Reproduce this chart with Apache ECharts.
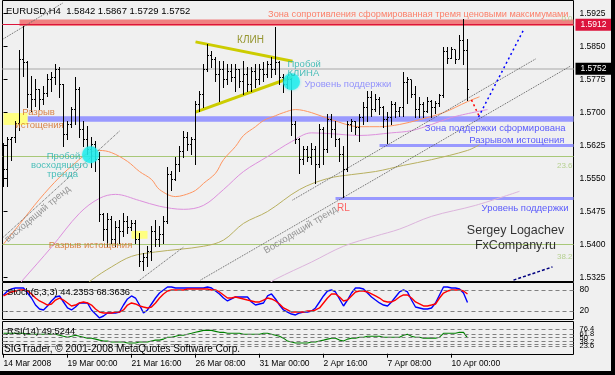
<!DOCTYPE html>
<html><head><meta charset="utf-8">
<script src="https://cdn.jsdelivr.net/npm/echarts@6/dist/echarts.min.js"></script>
<style>html,body{margin:0;padding:0;background:#f0f0f0;}#c{width:615px;height:375px;}</style>
</head><body><div id="c"></div>
<script>
// ---------- DATA ----------
const xTickIndex = [0,16,32,48,64,80,96,112];
const xTickLabels = ['14 Mar 2008','19 Mar 00:00','21 Mar 16:00','26 Mar 08:00','31 Mar 00:00','2 Apr 16:00','7 Apr 08:00','10 Apr 00:00'];
const priceTicks = [1.5325,1.5400,1.5475,1.5550,1.5625,1.5700,1.5775,1.5850,1.5925];
const stochTicks = [0,20,80,100];
const stochLevels = [20,80];
const rsiTicks = [0,23.6,38.2,50,61.8,76.4,100];
const rsiLevels = [23.6,30,38.2,50,61.8,76.4];

const opens = [1.5616,1.5571,1.5639,1.5643,1.5675,1.5820,1.5815,1.5741,1.5729,1.5752,
1.5729,1.5743,1.5775,1.5779,1.5797,1.5763,1.5650,1.5673,1.5707,1.5752,
1.5661,1.5639,1.5616,1.5627,1.5593,1.5469,1.5435,1.5457,1.5412,1.5439,
1.5430,1.5453,1.5439,1.5448,1.5412,1.5362,1.5371,1.5385,1.5430,1.5412,
1.5423,1.5453,1.5559,1.5548,1.5582,1.5611,1.5643,1.5627,1.5639,1.5718,
1.5741,1.5797,1.5831,1.5820,1.5786,1.5797,1.5775,1.5793,1.5779,1.5797,
1.5770,1.5786,1.5763,1.5793,1.5775,1.5797,1.5786,1.5809,1.5797,1.5815,
1.5779,1.5763,1.5775,1.5673,1.5639,1.5593,1.5616,1.5598,1.5616,1.5582,
1.5661,1.5616,1.5684,1.5661,1.5639,1.5605,1.5571,1.5673,1.5679,1.5666,
1.5688,1.5711,1.5734,1.5707,1.5729,1.5711,1.5684,1.5688,1.5718,1.5702,
1.5711,1.5768,1.5775,1.5741,1.5707,1.5718,1.5702,1.5725,1.5711,1.5720,
1.5738,1.5838,1.5824,1.5843,1.5820,1.5865,1.5842];
const highs = [1.5632,1.5645,1.5645,1.5682,1.5843,1.5897,1.5818,1.5784,1.5777,1.5754,
1.5761,1.5788,1.5793,1.5811,1.5804,1.5766,1.5682,1.5713,1.5781,1.5759,
1.5682,1.5670,1.5645,1.5636,1.5611,1.5471,1.5471,1.5464,1.5453,1.5455,
1.5471,1.5464,1.5455,1.5455,1.5426,1.5380,1.5396,1.5441,1.5455,1.5441,
1.5464,1.5577,1.5568,1.5600,1.5623,1.5659,1.5657,1.5645,1.5727,1.5750,
1.5811,1.5856,1.5840,1.5827,1.5818,1.5818,1.5811,1.5811,1.5811,1.5799,
1.5818,1.5804,1.5804,1.5811,1.5811,1.5815,1.5818,1.5827,1.5895,1.5818,
1.5788,1.5784,1.5779,1.5682,1.5643,1.5623,1.5625,1.5630,1.5623,1.5675,
1.5668,1.5697,1.5697,1.5682,1.5643,1.5623,1.5682,1.5686,1.5682,1.5697,
1.5725,1.5750,1.5750,1.5743,1.5736,1.5716,1.5702,1.5727,1.5725,1.5713,
1.5793,1.5782,1.5775,1.5760,1.5736,1.5725,1.5736,1.5729,1.5727,1.5743,
1.5849,1.5849,1.5849,1.5843,1.5877,1.5912,1.5867];
const lows = [1.5532,1.5532,1.5593,1.5634,1.5661,1.5784,1.5713,1.5704,1.5716,1.5709,
1.5720,1.5738,1.5750,1.5766,1.5736,1.5625,1.5641,1.5668,1.5675,1.5645,
1.5623,1.5607,1.5577,1.5568,1.5453,1.5410,1.5396,1.5403,1.5396,1.5403,
1.5419,1.5426,1.5432,1.5403,1.5351,1.5341,1.5351,1.5364,1.5396,1.5396,
1.5403,1.5448,1.5523,1.5546,1.5568,1.5600,1.5614,1.5607,1.5584,1.5704,
1.5713,1.5795,1.5804,1.5772,1.5727,1.5759,1.5766,1.5772,1.5750,1.5759,
1.5743,1.5750,1.5750,1.5759,1.5766,1.5772,1.5781,1.5781,1.5788,1.5766,
1.5747,1.5757,1.5648,1.5630,1.5562,1.5584,1.5591,1.5584,1.5539,1.5577,
1.5584,1.5611,1.5645,1.5623,1.5589,1.5509,1.5568,1.5659,1.5652,1.5636,
1.5675,1.5682,1.5693,1.5704,1.5697,1.5668,1.5630,1.5675,1.5691,1.5693,
1.5693,1.5722,1.5736,1.5691,1.5691,1.5691,1.5702,1.5691,1.5700,1.5716,
1.5736,1.5813,1.5824,1.5813,1.5824,1.5811,1.5729];
const closes = [1.5571,1.5639,1.5643,1.5675,1.5820,1.5815,1.5741,1.5729,1.5752,1.5729,
1.5743,1.5775,1.5779,1.5797,1.5763,1.5650,1.5673,1.5707,1.5752,1.5661,
1.5639,1.5616,1.5627,1.5593,1.5469,1.5435,1.5457,1.5412,1.5439,1.5430,
1.5453,1.5439,1.5448,1.5412,1.5362,1.5371,1.5385,1.5430,1.5412,1.5423,
1.5453,1.5559,1.5548,1.5582,1.5611,1.5643,1.5627,1.5639,1.5718,1.5741,
1.5797,1.5831,1.5820,1.5786,1.5797,1.5775,1.5793,1.5779,1.5797,1.5770,
1.5786,1.5763,1.5793,1.5775,1.5797,1.5786,1.5809,1.5797,1.5815,1.5779,
1.5763,1.5775,1.5673,1.5639,1.5593,1.5616,1.5598,1.5616,1.5582,1.5661,
1.5616,1.5684,1.5661,1.5639,1.5605,1.5571,1.5673,1.5679,1.5666,1.5688,
1.5711,1.5734,1.5707,1.5729,1.5711,1.5684,1.5688,1.5718,1.5702,1.5711,
1.5768,1.5775,1.5741,1.5707,1.5718,1.5702,1.5725,1.5711,1.5720,1.5738,
1.5838,1.5824,1.5843,1.5820,1.5865,1.5842,1.5752];

const stochK = [65.7,77.1,82.9,85.7,85.7,85.7,71.4,57.1,37.1,25.7,
22.9,34.3,48.6,60.0,62.9,45.7,28.6,22.9,31.4,42.9,
42.9,42.9,22.9,11.4,0,5.7,14.3,14.3,14.3,17.1,
37.1,54.3,62.9,57.1,37.1,14.3,22.9,40.0,57.1,71.4,
80.0,88.6,88.6,85.7,85.7,85.7,85.7,85.7,85.7,85.7,
85.7,88.6,85.7,77.1,68.6,57.1,48.6,54.3,60.0,60.0,
60.0,60.0,45.7,37.1,40.0,42.9,62.9,68.6,54.3,37.1,
22.9,17.1,11.4,8.6,14.3,17.1,17.1,20.0,28.6,45.7,
62.9,77.1,80.0,74.3,54.3,34.3,51.4,71.4,85.7,85.7,
82.9,71.4,60.0,51.4,42.9,37.1,34.3,45.7,60.0,74.3,
80.0,74.3,51.4,31.4,28.6,25.7,25.7,28.6,42.9,65.7,
88.6,88.6,85.7,85.7,82.9,71.4,44.2353];
const stochD = [62.9,68.6,74.3,77.1,80.0,80.0,77.1,68.6,57.1,48.6,
42.9,37.1,40.0,51.4,57.1,51.4,42.9,34.3,37.1,42.9,
45.7,42.9,37.1,25.7,17.1,14.3,14.3,14.3,17.1,17.1,
22.9,37.1,42.9,40.0,34.3,31.4,28.6,31.4,42.9,57.1,
68.6,77.1,80.0,80.0,80.0,80.0,82.9,82.9,82.9,82.9,
82.9,82.9,80.0,80.0,74.3,65.7,57.1,57.1,60.0,57.1,
54.3,51.4,48.6,45.7,45.7,51.4,57.1,54.3,48.6,40.0,
28.6,22.9,17.1,17.1,17.1,17.1,20.0,20.0,22.9,28.6,
42.9,57.1,68.6,68.6,60.0,48.6,51.4,62.9,74.3,77.1,
77.1,74.3,68.6,62.9,57.1,48.6,45.7,45.7,51.4,60.0,
65.7,65.7,57.1,45.7,40.0,34.3,34.3,37.1,40.0,57.1,
71.4,77.1,80.0,80.0,80.0,77.1,68.3636];
const rsi = [63.6,63.6,63.6,63.6,63.6,63.6,60.6,60.6,60.6,60.6,
60.6,60.6,60.6,60.6,57.6,54.5,51.5,54.5,57.6,54.5,
51.5,48.5,48.5,45.5,42.4,39.4,39.4,36.4,36.4,36.4,
36.4,33.3,33.3,33.3,36.4,36.4,36.4,39.4,42.4,42.4,
45.5,51.5,51.5,54.5,57.6,57.6,60.6,63.6,66.7,69.7,
72.7,72.7,72.7,69.7,66.7,66.7,63.6,63.6,63.6,63.6,
60.6,60.6,60.6,60.6,60.6,63.6,63.6,60.6,57.6,54.5,
48.5,39.4,36.4,33.3,33.3,33.3,33.3,36.4,36.4,39.4,
42.4,45.5,48.5,48.5,42.4,39.4,45.5,48.5,48.5,51.5,
51.5,54.5,54.5,54.5,54.5,51.5,51.5,51.5,51.5,51.5,
57.6,60.6,54.5,51.5,51.5,48.5,48.5,48.5,48.5,51.5,
63.6,63.6,63.6,63.6,66.7,66.7,49.5244];

// moving averages: [bar index, price] (shifted lines run past the last bar)
const maOrange = [[0,1.5401],[4,1.5446],[9,1.5503],[14,1.5553],[18,1.5586],[21,1.5607],[24,1.5614],[27,1.5609],[31,1.5589],[34,1.5566],[37,1.5548],[39,1.5525],[43,1.5509],[45,1.5512],[48,1.5523],[50,1.5539],[53,1.5562],[55,1.5593],[58,1.5623],[60,1.5648],[63,1.5668],[65,1.5682],[68,1.5693],[70,1.5700],[73,1.5707],[77,1.5700],[82,1.5684],[89,1.5668],[94,1.5668],[99,1.5673],[104,1.5684],[110,1.5700],[116,1.5725],[119,1.5736]];
const maPlum = [[0,1.5269],[5,1.5321],[12,1.5394],[19,1.5471],[24,1.5505],[28,1.5514],[34,1.5500],[39,1.5487],[45,1.5480],[50,1.5489],[55,1.5525],[60,1.5566],[66,1.5600],[72,1.5634],[77,1.5654],[82,1.5652],[89,1.5648],[97,1.5654],[102,1.5659],[107,1.5673],[112,1.5689],[121,1.5707]];
const maOlive = [[19,1.5294],[22,1.5319],[27,1.5349],[32,1.5373],[38,1.5383],[50,1.5396],[55,1.5410],[60,1.5448],[66,1.5475],[74,1.5525],[81,1.5550],[87,1.5559],[93,1.5566],[100,1.5580],[107,1.5593],[116,1.5614],[119,1.5627]];
const maThistle = [[64,1.5299],[68,1.5321],[77,1.5360],[85,1.5396],[93,1.5419],[99,1.5435],[107,1.5464],[118,1.5489],[129,1.5521]];

// horizontal levels (prices)
const resistLevel = 1.5912, resistZoneLow = 1.5897;
const supportZone = [1.5692, 1.5679];
const lastPrice = 1.5752;
const lowLine = 1.5341;
const fibLevels = [1.5896, 1.5564, 1.5360];
const supportLine1 = 1.5626, supportLine2 = 1.5506;
const gapBoxes = [[0,6,1.5699,1.5672],[32,36,1.5431,1.5413]];

// drawn trend lines: [i1,p1,i2,p2]
const grayLines = [[0,1.5868,14.75,1.5949],[0,1.5417,29,1.5658],[33.75,1.5317,45,1.5394],[49.25,1.5319,141.75,1.5806],[72.25,1.5501,133,1.5822]];
const wedgeLines = [[48,1.5861,72.25,1.5817],[48,1.5701,72.25,1.5781]];
const forecastBlue = [118.75,1.5690,130,1.5888];
const forecastRed = [117,1.5729,119,1.5690];
const navyLine = [127.5,1.5319,137.25,1.5349];
const breakouts = [[21.75,1.5604],[72,1.5770]];

// ---------- CHART ----------
const FONT = "'Liberation Sans', Arial, sans-serif";
const chart = echarts.init(document.getElementById('c'), null, {renderer:'canvas'});

const notes = [
 {t:'Зона сопротивления сформированная тремя ценовыми максимумами', i:141.25, p:1.5924, c:'#ff6347', s:9.2, a:'right'},
 {t:'0.0', i:142.25, p:1.5914, c:'#a8c878', s:8, a:'right'},
 {t:'КЛИН', i:61.75, p:1.5865, c:'#808000', s:10, a:'center'},
 {t:'Пробой', i:71, p:1.5810, c:'#20b2aa', s:9.5, a:'left'},
 {t:'КЛИНА', i:71, p:1.5790, c:'#20b2aa', s:9.5, a:'left'},
 {t:'Уровень поддержки', i:75.25, p:1.5765, c:'#7b7bff', s:9.5, a:'left'},
 {t:'Разрыв', i:8.75, p:1.5701, c:'#d2691e', s:9.5, a:'center'},
 {t:'истощения', i:9, p:1.5672, c:'#d2691e', s:9.5, a:'center'},
 {t:'Пробой', i:15, p:1.5601, c:'#20b2aa', s:9.5, a:'center'},
 {t:'восходящего', i:14, p:1.5581, c:'#20b2aa', s:9.5, a:'center'},
 {t:'тренда', i:14.75, p:1.5560, c:'#20b2aa', s:9.5, a:'center'},
 {t:'Зона поддержки сформирована', i:140.5, p:1.5665, c:'#3333ff', s:9.5, a:'right'},
 {t:'Разрывом истощения', i:140.25, p:1.5636, c:'#3333ff', s:9.5, a:'right'},
 {t:'23.6', i:142.25, p:1.5579, c:'#a8c878', s:8, a:'right'},
 {t:'Уровень поддержки', i:141.25, p:1.5483, c:'#3333ff', s:9.5, a:'right'},
 {t:'RL', i:85, p:1.5483, c:'#ff4040', s:10, a:'center'},
 {t:'Sergey Logachev', i:128, p:1.5431, c:'#000', s:12.5, a:'center'},
 {t:'FxCompany.ru', i:128, p:1.5397, c:'#000', s:12.5, a:'center'},
 {t:'Разрыв истощения', i:21.75, p:1.5397, c:'#d2691e', s:9.5, a:'center'},
 {t:'38.2', i:142.25, p:1.5372, c:'#a8c878', s:8, a:'right'},
 {t:'Восходящий тренд', i:74.25, p:1.5433, c:'#7a7a7a', s:9.5, a:'center', r:31},
 {t:'восходящий тренд', i:8.5, p:1.5469, c:'#7a7a7a', s:9.5, a:'center', r:40}
];

const XMIN = -0.25, XMAX = 142.5;
const lineSeg = (seg, color, width, type, z) => ({
  type:'line', xAxisIndex:0, yAxisIndex:0, data:[[seg[0],seg[1]],[seg[2],seg[3]]],
  showSymbol:false, symbol:'none', silent:true, z:z||3,
  lineStyle:{color, width, type}
});
const maSeries = (d, color) => ({type:'line', xAxisIndex:0, yAxisIndex:0, data:d, showSymbol:false, symbol:'none', smooth:0.35, silent:true, z:3, lineStyle:{color, width:1}});

const bars = opens.map((o,k)=>[k,o,highs[k],lows[k],closes[k]]);

const priceLabel = (txt,bg) => ({show:true, position:'end', distance:2, formatter:txt, color:'#fff', backgroundColor:bg, padding:[2,5,1,5], fontSize:8.5, fontFamily:FONT});

const option = {
  animation:false,
  backgroundColor:'#f0f0f0',
  textStyle:{fontFamily:FONT},
  grid:[
    {left:2.5, top:0.5, width:571, height:281, show:true, borderColor:'#000', borderWidth:1, backgroundColor:'#f0f0f0'},
    {left:2.5, top:282.5, width:571, height:37, show:true, borderColor:'#000', borderWidth:1, backgroundColor:'#f0f0f0'},
    {left:2.5, top:321.5, width:571, height:33, show:true, borderColor:'#000', borderWidth:1, backgroundColor:'#f0f0f0'}
  ],
  xAxis:[0,1,2].map(g=>({
    type:'value', gridIndex:g, min:XMIN, max:XMAX, show:g===2,
    axisLine:{show:false}, splitLine:{show:false},
    axisTick:{show:true, customValues:xTickIndex, length:4, lineStyle:{color:'#000'}},
    axisLabel:{show:true, customValues:xTickIndex, formatter:v=>xTickLabels[xTickIndex.indexOf(v)], align:'left', margin:5, color:'#000', fontSize:8.5, fontFamily:FONT}
  })),
  yAxis:[
    {type:'value', gridIndex:0, position:'right', min:1.53158, max:1.59551, axisLine:{show:false}, splitLine:{show:false},
     axisTick:{show:true, customValues:priceTicks, length:4, lineStyle:{color:'#000'}},
     axisLabel:{customValues:priceTicks, formatter:v=>v.toFixed(4), margin:6, color:'#000', fontSize:8.5, fontFamily:FONT}},
    {type:'value', gridIndex:1, position:'right', min:-4.3, max:101.4, axisLine:{show:false}, splitLine:{show:false},
     axisTick:{show:true, customValues:stochTicks, length:4, lineStyle:{color:'#000'}},
     axisLabel:{customValues:stochTicks, hideOverlap:false, margin:6, color:'#000', fontSize:8.5, fontFamily:FONT}},
    {type:'value', gridIndex:2, position:'right', min:-2.5, max:100.5, axisLine:{show:false}, splitLine:{show:false},
     axisTick:{show:true, customValues:rsiTicks, length:4, lineStyle:{color:'#000'}},
     axisLabel:{customValues:rsiTicks, hideOverlap:false, margin:6, color:'#000', fontSize:7.5, fontFamily:FONT}}
  ],
  series:[
    {type:'line', xAxisIndex:0, yAxisIndex:0, data:[], z:1, silent:true,
     markArea:{silent:true, z:1, data:[
       [{coord:[4,resistLevel], itemStyle:{color:'#f08080'}},{coord:[XMAX,resistZoneLow]}],
       [{coord:[6,supportZone[0]], itemStyle:{color:'#9999ff'}},{coord:[XMAX,supportZone[1]]}],
       ...gapBoxes.map(b=>[{coord:[b[0],b[2]], itemStyle:{color:'#ffff80'}},{coord:[b[1],b[3]]}])
     ]},
     markLine:{silent:true, z:2, symbol:['none','none'], label:{show:false}, data:[
       ...fibLevels.map(v=>({yAxis:v, lineStyle:{color:'#a8c878', width:1, type:'solid'}})),
       [{coord:[94,supportLine1], lineStyle:{color:'#9999ff', width:3, type:'solid'}},{coord:[XMAX,supportLine1]}],
       [{coord:[83,supportLine2], lineStyle:{color:'#9999ff', width:3, type:'solid'}},{coord:[XMAX,supportLine2]}]
     ]}},
    {type:'line', xAxisIndex:0, yAxisIndex:0, data:[], z:2, silent:true,
     markLine:{silent:true, z:2, symbol:['none','none'], data:[
       {yAxis:resistLevel, lineStyle:{color:'#dc143c', width:1, type:'solid'}, label:priceLabel(resistLevel.toFixed(4),'#dc143c')},
       {yAxis:lastPrice, lineStyle:{color:'#c0c0c0', width:1.5, type:'solid'}, label:priceLabel(lastPrice.toFixed(4),'#000')},
       {yAxis:lowLine, lineStyle:{color:'#2b2bff', width:1.5, type:'solid'}, label:priceLabel(lowLine.toFixed(4),'#3333ff')}
     ]}},
    maSeries(maThistle,'#dcb4dc'),
    maSeries(maOlive,'#b8b060'),
    maSeries(maPlum,'#dd90dd'),
    maSeries(maOrange,'#ff9560'),
    ...grayLines.map(s=>lineSeg(s,'#606060',1,'dotted')),
    ...wedgeLines.map(s=>lineSeg(s,'#cccc00',3,'solid')),
    lineSeg(forecastBlue,'#0000ff',1.5,[2,3],5),
    lineSeg(forecastRed,'#ff0000',1.5,[2,3],5),
    lineSeg(navyLine,'#000080',1.5,[3,2],5),
    {type:'custom', xAxisIndex:0, yAxisIndex:0, z:4, silent:true, data:bars, encode:{x:0, y:[1,2,3,4]},
     renderItem:(params, api)=>{
       const i = api.value(0);
       const pO = api.coord([i, api.value(1)]), pH = api.coord([i, api.value(2)]);
       const pL = api.coord([i, api.value(3)]), pC = api.coord([i, api.value(4)]);
       const x = Math.floor(pH[0]) + 0.5;
       const yH = Math.round(pH[1]), yL = Math.round(pL[1]);
       const yO = Math.floor(pO[1]) + 0.5, yC = Math.floor(pC[1]) + 0.5;
       const st = {stroke:'#000', lineWidth:1};
       return {type:'group', children:[
         {type:'line', shape:{x1:x, y1:yH, x2:x, y2:yL+1}, style:st},
         {type:'line', shape:{x1:x-1.5, y1:yO, x2:x, y2:yO}, style:st},
         {type:'line', shape:{x1:x, y1:yC, x2:x+1.5, y2:yC}, style:st}
       ]};
     }},
    {type:'scatter', xAxisIndex:0, yAxisIndex:0, z:5, silent:true, data:breakouts, symbolSize:17,
     itemStyle:{color:'#22eeee', shadowColor:'rgba(0,230,230,0.6)', shadowBlur:3}},
    {type:'scatter', xAxisIndex:0, yAxisIndex:0, z:6, silent:true, symbolSize:0,
     data:notes.map(n=>({name:n.t, value:[n.i,n.p],
       label:{show:true, position:'inside', formatter:'{b}', color:n.c, fontSize:n.s, fontFamily:FONT, align:n.a, verticalAlign:'middle', rotate:n.r||0}}))},
    {type:'line', xAxisIndex:1, yAxisIndex:1, data:stochK.map((v,k)=>[k,v]), showSymbol:false, symbol:'none', silent:true, z:3,
     lineStyle:{color:'#0000ff', width:1.4},
     markLine:{silent:true, symbol:['none','none'], label:{show:false}, data:stochLevels.map(v=>({yAxis:v, lineStyle:{color:'#808080', width:1, type:[4,3]}}))}},
    {type:'line', xAxisIndex:1, yAxisIndex:1, data:stochD.map((v,k)=>[k,v]), showSymbol:false, symbol:'none', silent:true, z:3,
     lineStyle:{color:'#ff0000', width:1.4}},
    {type:'line', xAxisIndex:2, yAxisIndex:2, data:rsi.map((v,k)=>[k,v]), showSymbol:false, symbol:'none', silent:true, z:3,
     lineStyle:{color:'#008000', width:1.1},
     markLine:{silent:true, symbol:['none','none'], label:{show:false}, data:rsiLevels.map(v=>({yAxis:v, lineStyle:{color:'#808080', width:1, type:[4,3]}}))}}
  ],
  graphic:[
    {type:'text', x:6, y:11, z:20, style:{text:'EURUSD,H4  1.5842 1.5867 1.5729 1.5752', fill:'#000', font:'9.5px '+FONT, verticalAlign:'middle'}},
    {type:'text', x:7, y:292, z:20, style:{text:'Stoch(5,3,3) 44.2353 68.3636', fill:'#000', font:'9.3px '+FONT, verticalAlign:'middle'}},
    {type:'text', x:7, y:331, z:20, style:{text:'RSI(14) 49.5244', fill:'#000', font:'9.3px '+FONT, verticalAlign:'middle'}},
    {type:'text', x:4, y:349, z:20, style:{text:'SIGTrader, © 2001-2008 MetaQuotes Software Corp.', fill:'#000', font:'10px '+FONT, verticalAlign:'middle'}},
    {type:'rect', z:30, shape:{x:611, y:0, width:4, height:375}, style:{fill:'#000'}},
    {type:'rect', z:30, shape:{x:0, y:371, width:615, height:4}, style:{fill:'#000'}}
  ]
};
chart.setOption(option);
</script>
</body></html>
